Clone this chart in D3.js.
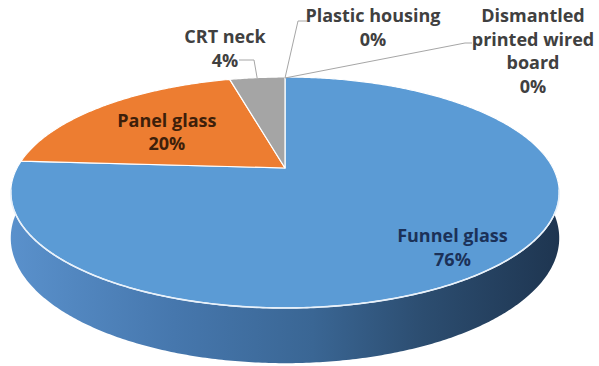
<!DOCTYPE html>
<html>
<head>
<meta charset="utf-8">
<script src="https://cdn.jsdelivr.net/npm/d3@7"></script>
<style>
  html, body { margin: 0; padding: 0; background: #ffffff; }
  svg { display: block; }
  text { font-family: "Open Sans", Lato, sans-serif; font-weight: bold; }
</style>
</head>
<body>
<svg id="chart" width="599" height="366"></svg>
<script>
// Composition of a dismantled CRT television (share of mass)
const categories = ["Funnel glass", "Panel glass", "CRT neck", "Plastic housing", "Dismantled printed wired board"];
const values = [76, 20, 4, 0, 0];
const valueLabels = ["76%", "20%", "4%", "0%", "0%"];
const labelLines = [["Funnel glass", "76%"], ["Panel glass", "20%"], ["CRT neck", "4%"], ["Plastic housing", "0%"], ["Dismantled", "printed wired", "board", "0%"]];
const colors = ["#5b9bd5", "#ed7d31", "#a5a5a5", "#4472c4", "#ffc000"];

const W = 599, H = 366;
const svg = d3.select("#chart");

// Perspective projection of the pie's unit disc onto the page.
const cx = 285, cy = 168;      // projected pie centre
const A = 268, B = 110.3;      // horizontal / vertical radii before perspective
const K = -0.212;              // perspective strength (near side enlarged)
const DEPTH = 43.5;            // thickness of the disc

function project(angle, r, z) {
  const u = Math.sin(angle) * r, v = -Math.cos(angle) * r;
  const d = 1 + K * v;
  return [cx + A * u / d, cy + B * v / d + (z || 0) * DEPTH / d];
}

const pie = d3.pie().sort(null).value(d => d)(values);

function arcPoints(a0, a1, z, step) {
  const pts = [];
  const n = Math.max(2, Math.ceil(Math.abs(a1 - a0) / (step || 0.01)));
  for (let i = 0; i <= n; i++) pts.push(project(a0 + (a1 - a0) * i / n, 1, z));
  return pts;
}

const line = d3.line();

// Side wall gradient (lit from the left)
const defs = svg.append("defs");
const sideGrad = defs.append("linearGradient").attr("id", "sideBlue")
  .attr("gradientUnits", "userSpaceOnUse")
  .attr("x1", cx - A * 1.03).attr("x2", cx + A * 1.03).attr("y1", 0).attr("y2", 0);
[["0%", "#5a91cc"], ["30%", "#4677ad"], ["55%", "#3a6694"], ["75%", "#2c4d70"], ["100%", "#1e3550"]]
  .forEach(([o, c]) => sideGrad.append("stop").attr("offset", o).attr("stop-color", c));

// Side walls: only the near half of the disc can be seen
const gSide = svg.append("g");
pie.forEach((s, i) => {
  if (s.endAngle - s.startAngle <= 0) return;
  const a0 = Math.max(s.startAngle, Math.PI * 0.45);
  const a1 = Math.min(s.endAngle, Math.PI * 1.55);
  if (a1 <= a0) return;
  const top = arcPoints(a0, a1, 0);
  const bot = arcPoints(a1, a0, 1);
  gSide.append("path")
    .attr("d", line(top.concat(bot)) + "Z")
    .attr("fill", i === 0 ? "url(#sideBlue)" : d3.color(colors[i]).darker(1));
});

// Top faces
const gTop = svg.append("g");
pie.forEach((s, i) => {
  if (s.endAngle - s.startAngle <= 0) return;
  const pts = [project(0, 0, 0)].concat(arcPoints(s.startAngle, s.endAngle, 0));
  gTop.append("path")
    .attr("d", line(pts) + "Z")
    .attr("fill", colors[i])
    .attr("stroke", "#ffffff")
    .attr("stroke-width", 1.2)
    .attr("stroke-linejoin", "round");
});

// Light rim along the front edge
gTop.append("path")
  .attr("d", line(arcPoints(Math.PI * 0.56, Math.PI * 1.44, 0)))
  .attr("fill", "none")
  .attr("stroke", "#e8f1fa")
  .attr("stroke-width", 1.6);

// Labels
const FS = 18, LH = 23.5;
const gLab = svg.append("g");

function drawLabel(lines, x, y, fill) {
  const t = gLab.append("text")
    .attr("text-anchor", "middle")
    .attr("font-size", FS)
    .attr("fill", fill);
  lines.forEach((ln, k) => {
    t.append("tspan").attr("x", x).attr("y", y + k * LH).text(ln);
  });
  return t;
}

// Inside labels placed along each slice's mid-angle
const insideLayout = { 0: { r: 0.80, dx: 0, dy: 1 }, 1: { r: 0.62, dx: 0, dy: -1 } };
Object.keys(insideLayout).forEach(key => {
  const i = +key, s = pie[i], L = insideLayout[i];
  const mid = (s.startAngle + s.endAngle) / 2;
  const [x, y] = project(mid, L.r, 0);
  const fill = i === 0 ? "#1b3158" : "#3d1f0a";
  drawLabel(labelLines[i], x + L.dx, y + L.dy, fill);
});

// Outside labels with leader lines to the rim
const outsideLayout = {
  2: { x: 225, y: 43, line: [[239, 60], [254, 60]] },
  3: { x: 373, y: 22, line: [[307, 21], [298, 21]] },
  4: { x: 533, y: 22, line: [[472, 43], [465, 43]] }
};
const leaderColor = "#a6a6a6";
Object.keys(outsideLayout).forEach(key => {
  const i = +key, s = pie[i], L = outsideLayout[i];
  const mid = (s.startAngle + s.endAngle) / 2;
  const rim = project(mid, 1, 0);
  const pts = L.line.concat([[rim[0], rim[1] + 1]]);
  gLab.append("path")
    .attr("d", line(pts))
    .attr("fill", "none")
    .attr("stroke", leaderColor)
    .attr("stroke-width", 1);
  drawLabel(labelLines[i], L.x, L.y, "#404040");
});
</script>
</body>
</html>
